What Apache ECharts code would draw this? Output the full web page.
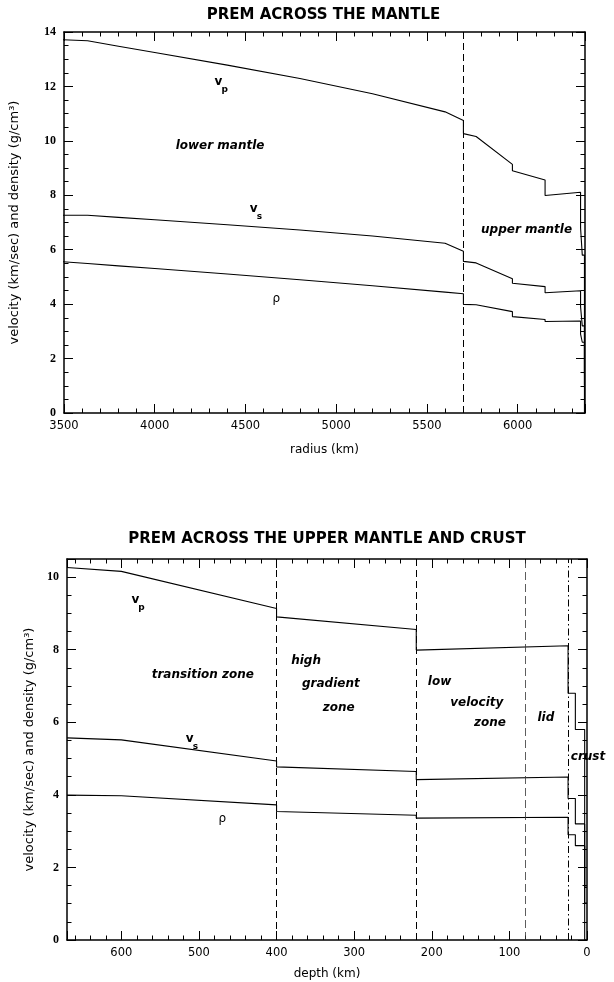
<!DOCTYPE html>
<html>
<head>
<meta charset="utf-8">
<title>PREM profiles</title>
<script src="https://cdn.jsdelivr.net/npm/echarts@6/dist/echarts.min.js"></script>
<style>
  html, body { margin: 0; padding: 0; background: #fff; }
  #chart { width: 614px; height: 982px; }
</style>
</head>
<body>
<div id="chart"></div>
<script>
// ---- PREM across the whole mantle, by radius (km) ----
const mantleRadius = [3480, 3630, 3800, 4000, 4400, 4800, 5200, 5600, 5701, 5701, 5771, 5971, 5971, 6151, 6151, 6346.6, 6346.6, 6356, 6356, 6368, 6368, 6371];
const mantleVp  = [13.717, 13.680, 13.477, 13.245, 12.784, 12.293, 11.734, 11.066, 10.751, 10.266, 10.158, 9.134, 8.905, 8.559, 7.990, 8.111, 6.8, 6.8, 5.8, 5.8, 1.45, 1.45];
const mantleVs  = [7.265, 7.266, 7.189, 7.100, 6.920, 6.725, 6.504, 6.240, 5.945, 5.570, 5.516, 4.933, 4.770, 4.644, 4.419, 4.491, 3.9, 3.9, 3.2, 3.2, 0, 0];
const mantleRho = [5.567, 5.491, 5.407, 5.307, 5.106, 4.898, 4.678, 4.443, 4.381, 3.992, 3.976, 3.724, 3.543, 3.436, 3.360, 3.381, 2.9, 2.9, 2.6, 2.6, 1.02, 1.02];
const mantleBoundaries = [5701];

// ---- PREM across the upper mantle and crust, by depth (km) ----
const upperDepth = [670, 600, 400, 400, 220, 220, 24.4, 24.4, 15, 15, 3, 3, 0];
const upperVp  = [10.266, 10.158, 9.134, 8.905, 8.559, 7.990, 8.111, 6.8, 6.8, 5.8, 5.8, 1.45, 1.45];
const upperVs  = [5.570, 5.516, 4.933, 4.770, 4.644, 4.419, 4.491, 3.9, 3.9, 3.2, 3.2, 0, 0];
const upperRho = [3.992, 3.976, 3.724, 3.543, 3.436, 3.360, 3.381, 2.9, 2.9, 2.6, 2.6, 1.02, 1.02];
const upperBoundaries = [400, 220, 80, 24.4];

// ---- axis ranges and tick steps ----
const radiusRange = [3500, 6371], radiusMajor = 500, radiusMinor = 100;
const mantleValueRange = [0, 14], mantleValueMajor = 2, valueMinor = 0.5;
const depthRange = [0, 670], depthMajor = 100, depthMinor = 20;
const upperValueRange = [0, 10.5], upperValueMajor = 2;

const SANS = '"DejaVu Sans", Verdana, sans-serif';
const SERIF = '"Liberation Serif", "Times New Roman", serif';
const INK = '#000';

const topGrid = { left: 62, right: 29, top: 32, height: 381 };
const lowGrid = { left: 67, right: 27, top: 559, height: 381 };

const zip = (xs, ys) => xs.map((x, i) => [x, ys[i]]);

// One side of a frame: a major axis (line, long ticks, optional labels)
// and an overlaid minor axis carrying only short ticks.
function sideAxes(gridIndex, position, range, major, minor, opts) {
  const base = {
    type: 'value', gridIndex, position, min: range[0], max: range[1],
    inverse: !!opts.inverse, splitLine: { show: false }, silent: true,
  };
  const majorAxis = Object.assign({}, base, {
    interval: major,
    axisLine: { show: true, onZero: false, lineStyle: { color: INK, width: 1.5 } },
    axisTick: { show: true, inside: true, length: 9, lineStyle: { color: INK, width: 1 } },
    axisLabel: opts.label ? Object.assign({ color: INK, hideOverlap: false }, opts.label) : { show: false },
  });
  if (opts.name) Object.assign(majorAxis, opts.name);
  const minorAxis = Object.assign({}, base, {
    interval: minor,
    axisLine: { show: false, onZero: false },
    axisTick: { show: true, inside: true, length: 4.5, lineStyle: { color: INK, width: 1 } },
    axisLabel: { show: false },
  });
  return { majorAxis, minorAxis };
}

function frameAxes(gridIndex, xCfg, yCfg) {
  const xb = sideAxes(gridIndex, 'bottom', xCfg.range, xCfg.major, xCfg.minor, { inverse: xCfg.inverse, label: xCfg.label, name: xCfg.name });
  const xt = sideAxes(gridIndex, 'top', xCfg.range, xCfg.major, xCfg.minor, { inverse: xCfg.inverse });
  const yl = sideAxes(gridIndex, 'left', yCfg.range, yCfg.major, yCfg.minor, { label: yCfg.label, name: yCfg.name });
  const yr = sideAxes(gridIndex, 'right', yCfg.range, yCfg.major, yCfg.minor, {});
  return {
    x: [xb.majorAxis, xt.majorAxis, xb.minorAxis, xt.minorAxis],
    y: [yl.majorAxis, yr.majorAxis, yl.minorAxis, yr.minorAxis],
  };
}

const yTitle = 'velocity (km/sec) and density (g/cm³)';
const xNameStyle = { fontFamily: SANS, fontSize: 12, color: INK };
const yNameStyle = { fontFamily: SANS, fontSize: 13, color: INK };
const xLabel = { fontFamily: SANS, fontSize: 11.5, margin: 7 };
const yLabel = { fontFamily: SERIF, fontSize: 12, fontWeight: 'bold', margin: 8 };

const topAxes = frameAxes(0,
  {
    range: radiusRange, major: radiusMajor, minor: radiusMinor,
    label: Object.assign({ formatter: v => (v % radiusMajor === 0 ? String(v) : '') }, xLabel),
    name: { name: 'radius (km)', nameLocation: 'middle', nameGap: 31, nameTextStyle: xNameStyle },
  },
  {
    range: mantleValueRange, major: mantleValueMajor, minor: valueMinor,
    label: yLabel,
    name: { name: yTitle, nameLocation: 'middle', nameGap: 43, nameRotate: 90, nameTextStyle: yNameStyle },
  });

const lowAxes = frameAxes(1,
  {
    range: depthRange, major: depthMajor, minor: depthMinor, inverse: true,
    label: Object.assign({ formatter: v => (v % depthMajor === 0 ? String(v) : '') }, xLabel),
    name: { name: 'depth (km)', nameLocation: 'middle', nameGap: 28, nameTextStyle: xNameStyle },
  },
  {
    range: upperValueRange, major: upperValueMajor, minor: valueMinor,
    label: Object.assign({ formatter: v => (v % upperValueMajor === 0 ? String(v) : '') }, yLabel),
    name: { name: yTitle, nameLocation: 'middle', nameGap: 19, nameRotate: 90, nameTextStyle: yNameStyle },
  });

const lineStyle = { color: INK, width: 1.1 };
function profile(name, xIdx, yIdx, data, boundaries) {
  const s = {
    name, type: 'line', xAxisIndex: xIdx, yAxisIndex: yIdx, data,
    showSymbol: false, symbol: 'none', clip: true, lineStyle, silent: true, animation: false,
  };
  if (boundaries) {
    s.markLine = {
      silent: true, symbol: ['none', 'none'], label: { show: false }, animation: false,
      data: boundaries.map(b => ({ xAxis: b.value, lineStyle: Object.assign({ color: INK, width: 1 }, b.style) })),
    };
  }
  return s;
}

const longDash = { type: [7, 4] };
const mantleMarks = mantleBoundaries.map(v => ({ value: v, style: longDash }));
const upperStyles = [longDash, longDash, { type: [8, 4], color: '#333', width: 0.8 }, { type: [7, 3, 1.5, 3] }];
const upperMarks = upperBoundaries.map((v, i) => ({ value: v, style: upperStyles[i] }));

const chart = echarts.init(document.getElementById('chart'), null, { renderer: 'canvas' });

chart.setOption({
  animation: false,
  backgroundColor: '#fff',
  grid: [
    Object.assign({ containLabel: false }, topGrid),
    Object.assign({ containLabel: false }, lowGrid),
  ],
  xAxis: topAxes.x.concat(lowAxes.x),
  yAxis: topAxes.y.concat(lowAxes.y),
  series: [
    profile('vp', 0, 0, zip(mantleRadius, mantleVp), mantleMarks),
    profile('vs', 0, 0, zip(mantleRadius, mantleVs)),
    profile('rho', 0, 0, zip(mantleRadius, mantleRho)),
    profile('vp', 4, 4, zip(upperDepth, upperVp), upperMarks),
    profile('vs', 4, 4, zip(upperDepth, upperVs)),
    profile('rho', 4, 4, zip(upperDepth, upperRho)),
  ],
});

// ---- annotations, anchored in data coordinates ----
const noteFont = 'italic bold 12px ' + SANS;
const symFont = 'bold 12px ' + SANS;
const rhoFont = '12px ' + SANS;
const subFont = 'bold 9px ' + SANS;

const mantleNotes = [
  { text: 'v', sub: 'p', at: [4351, 12.17] },
  { text: 'lower mantle', at: [4360, 9.8], italic: true },
  { text: 'v', sub: 's', at: [4545, 7.5] },
  { text: 'upper mantle', at: [6049, 6.73], italic: true },
  { text: 'ρ', at: [4670, 4.2], plain: true },
];
const upperNotes = [
  { text: 'v', sub: 'p', at: [582, 9.37] },
  { text: 'transition zone', at: [495, 7.3], italic: true },
  { text: 'high', at: [362, 7.7], italic: true },
  { text: 'gradient', at: [330, 7.05], italic: true },
  { text: 'zone', at: [320, 6.4], italic: true },
  { text: 'low', at: [190, 7.12], italic: true },
  { text: 'velocity', at: [142, 6.53], italic: true },
  { text: 'zone', at: [125, 5.98], italic: true },
  { text: 'lid', at: [53, 6.12], italic: true },
  { text: 'crust', at: [-1.3, 5.04], italic: true },
  { text: 'v', sub: 's', at: [512, 5.55] },
  { text: 'ρ', at: [470, 3.35], plain: true },
];

function noteGraphics(finder, notes) {
  const out = [];
  notes.forEach(n => {
    const p = chart.convertToPixel(finder, n.at);
    out.push({
      type: 'text', x: p[0], y: p[1], silent: true,
      style: { text: n.text, font: n.italic ? noteFont : (n.plain ? rhoFont : symFont), fill: INK, align: 'center', verticalAlign: 'middle' },
    });
    if (n.sub) {
      out.push({
        type: 'text', x: p[0] + 3, y: p[1] + 8, silent: true,
        style: { text: n.sub, font: subFont, fill: INK, align: 'left', verticalAlign: 'middle' },
      });
    }
  });
  return out;
}

const titleFont = 'bold 15px ' + SANS;
const titles = [
  { text: 'PREM ACROSS THE MANTLE', x: topGrid.left + (614 - topGrid.left - topGrid.right) / 2, y: 15 },
  { text: 'PREM ACROSS THE UPPER MANTLE AND CRUST', x: lowGrid.left + (614 - lowGrid.left - lowGrid.right) / 2, y: 539 },
].map(t => ({
  type: 'text', x: t.x, y: t.y, silent: true,
  style: { text: t.text, font: titleFont, fill: INK, align: 'center', verticalAlign: 'middle' },
}));

chart.setOption({
  graphic: titles
    .concat(noteGraphics({ xAxisIndex: 0, yAxisIndex: 0 }, mantleNotes))
    .concat(noteGraphics({ xAxisIndex: 4, yAxisIndex: 4 }, upperNotes)),
});
</script>
</body>
</html>
